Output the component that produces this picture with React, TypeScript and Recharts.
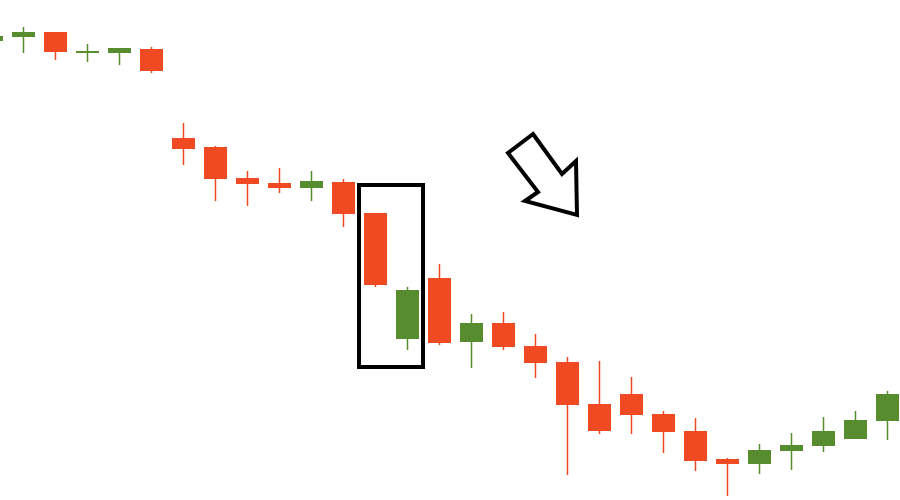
import React from 'react';
import { ComposedChart, Bar, XAxis, YAxis, ReferenceArea, ReferenceDot } from 'recharts';

// one entry per session, price units (the first one is cut off at the left edge)
const days = [
  'D0', 'D1', 'D2', 'D3', 'D4', 'D5', 'D6', 'D7', 'D8', 'D9',
  'D10', 'D11', 'D12', 'D13', 'D14', 'D15', 'D16', 'D17', 'D18', 'D19',
  'D20', 'D21', 'D22', 'D23', 'D24', 'D25', 'D26', 'D27', 'D28',
];
const opens = [459, 463, 468, 447, 447, 451, 362, 353, 322, 317, 312, 318, 287, 161, 222, 158, 177, 154, 138, 96, 106, 86, 69, 41, 36, 49, 54, 61, 79];
const closes = [464, 468, 448, 449, 452, 429, 351, 321, 316, 312, 319, 286, 215, 210, 157, 177, 153, 137, 95, 69, 85, 68, 39, 36, 50, 55, 69, 80, 106];
const highs = [467, 473, 468, 456, 452, 453, 377, 354, 329, 332, 329, 321, 287, 213, 236, 186, 188, 166, 143, 139, 123, 89, 82, 42, 56, 67, 83, 89, 109];
const lows = [456, 447, 440, 438, 435, 427, 335, 299, 294, 307, 299, 273, 213, 150, 155, 132, 150, 122, 25, 66, 66, 47, 29, 4, 26, 30, 48, 61, 60];

// the highlighted pair and where the arrow sits
const boxFrom = 'D12';
const boxTo = 'D13';
const boxTop = 315;
const boxBottom = 133;
const arrowDay = 'D17';
const arrowPrice = 325;

const UP = '#578D2F';
const DOWN = '#F04A23';

const data = days.map((day, i) => ({
  day,
  open: opens[i],
  close: closes[i],
  high: highs[i],
  low: lows[i],
  range: [lows[i], highs[i]],
}));

const Candle = (props: any) => {
  const { x, y, width, height, payload } = props;
  const { open, close, high, low } = payload;
  const color = close >= open ? UP : DOWN;
  const ratio = high === low ? 0 : height / (high - low);
  const top = y + (high - Math.max(open, close)) * ratio;
  const bottom = y + (high - Math.min(open, close)) * ratio;
  const cx = x + width / 2;
  return (
    <g>
      <line x1={cx} x2={cx} y1={y} y2={y + height} stroke={color} strokeWidth={1.5} />
      <rect x={x} y={top} width={width} height={Math.max(bottom - top, 1.5)} fill={color} />
    </g>
  );
};

const Arrow = (props: any) => {
  const { cx, cy } = props;
  const pts = [
    [-2, -41], [27, -1], [41, -14], [42, 40], [-10, 26], [3, 17], [-27, -22],
  ].map(([dx, dy]) => `${cx + dx},${cy + dy}`).join(' ');
  return <polygon points={pts} fill="#fff" stroke="#000" strokeWidth={4} strokeLinejoin="miter" />;
};

const App: React.FC = () => {
  return (
    <div style={{ position: 'absolute', left: 0, top: 0, width: 900, height: 500, overflow: 'hidden', background: '#fff' }}>
      <div style={{ position: 'absolute', left: -25.5, top: 0 }}>
        <ComposedChart width={928} height={500} data={data} margin={{ top: 0, right: 0, bottom: 0, left: 0 }}>
          <XAxis dataKey="day" type="category" hide />
          <YAxis type="number" domain={[0, 500]} hide />
          <Bar dataKey="range" barSize={23} shape={<Candle />} isAnimationActive={false} />
          <ReferenceArea
            x1={boxFrom}
            x2={boxTo}
            y1={boxBottom}
            y2={boxTop}
            fill="none"
            fillOpacity={0}
            stroke="#000"
            strokeWidth={4}
            ifOverflow="visible"
          />
          <ReferenceDot x={arrowDay} y={arrowPrice} r={1} shape={<Arrow />} ifOverflow="visible" />
        </ComposedChart>
      </div>
    </div>
  );
};

export default App;
